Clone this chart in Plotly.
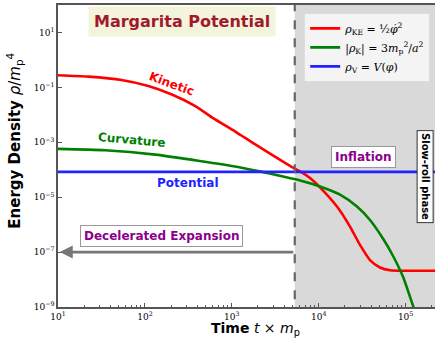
import plotly.graph_objects as go

# ---- data (log10 values) ----
logt_kin = [1.00, 1.35, 1.73, 2.04, 2.31, 2.58, 2.79, 3.04, 3.27, 3.50, 3.73, 3.785, 3.90, 4.015, 4.21, 4.36, 4.475, 4.59, 4.705, 4.82, 5.00, 5.34]
logr_kin = [-0.56, -0.61, -0.73, -0.95, -1.26, -1.68, -2.13, -2.61, -3.08, -3.53, -3.97, -4.06, -4.30, -4.64, -5.34, -6.07, -6.74, -7.29, -7.56, -7.66, -7.68, -7.68]

logt_curv = [1.00, 1.54, 2.12, 2.63, 3.07, 3.32, 3.55, 3.785, 4.015, 4.245, 4.44, 4.59, 4.75, 4.86, 4.97, 5.09, 5.12]
logr_curv = [-3.24, -3.29, -3.45, -3.68, -3.90, -4.06, -4.22, -4.39, -4.61, -4.91, -5.34, -5.83, -6.56, -7.17, -7.90, -9.00, -9.25]

logt_pot = [1.00, 5.34]
logr_pot = [-4.08, -4.08]

t_transition = 5.3e3
x_range_log = [1.0, 5.338]
y_range_log = [-9.0, 2.0]

y_tick_exps = [1, -1, -3, -5, -7, -9]
x_tick_exps = [1, 2, 3, 4, 5]

def p10(a):
    return [10 ** v for v in a]

fig = go.Figure()

# shaded inflation region
fig.add_trace(go.Scatter(
    x=[t_transition, 10 ** 6, 10 ** 6, t_transition, t_transition],
    y=[1e-12, 1e-12, 1e4, 1e4, 1e-12],
    fill="toself", fillcolor="#d9d9d9", line=dict(width=0),
    mode="lines", showlegend=False, hoverinfo="skip"))

# curves
fig.add_trace(go.Scatter(x=p10(logt_kin), y=p10(logr_kin), mode="lines",
                         line=dict(color="#ff0000", width=2.6, shape="spline", smoothing=0.6),
                         name="<i>ρ</i><sub>KE</sub> = ½<i>φ̇</i><sup>2</sup>"))
fig.add_trace(go.Scatter(x=p10(logt_curv), y=p10(logr_curv), mode="lines",
                         line=dict(color="#008000", width=2.6, shape="spline", smoothing=0.6),
                         name="|<i>ρ</i><sub>K</sub>| = 3<i>m</i><sub>p</sub><sup>2</sup>/<i>a</i><sup>2</sup>"))
fig.add_trace(go.Scatter(x=p10(logt_pot), y=p10(logr_pot), mode="lines",
                         line=dict(color="#2222ff", width=2.6),
                         name="<i>ρ</i><sub>V</sub> = <i>V</i>(<i>φ</i>)"))

# dashed transition line
fig.add_trace(go.Scatter(x=[t_transition, t_transition], y=[1e-12, 1e4], mode="lines",
                         line=dict(color="#666666", width=2.2, dash="dash"),
                         showlegend=False, hoverinfo="skip"))

sans = "DejaVu Sans"
ann = []
# title box
ann.append(dict(x=0.328, y=0.944, xref="paper", yref="paper", showarrow=False,
                xanchor="center", yanchor="middle",
                text="<b>Margarita Potential</b>",
                font=dict(family=sans, size=16, color="#a01a2e"),
                bgcolor="#f4f4dc", borderpad=5))
ann.append(dict(x=2.31, y=-0.89, xref="x", yref="y", showarrow=False, textangle=20,
                xanchor="center", yanchor="middle",
                text="<b>Kinetic</b>", font=dict(family=sans, size=12, color="#ff0000")))
ann.append(dict(x=1.85, y=-2.90, xref="x", yref="y", showarrow=False, textangle=5,
                xanchor="center", yanchor="middle",
                text="<b>Curvature</b>", font=dict(family=sans, size=12, color="#008000")))
ann.append(dict(x=2.50, y=-4.49, xref="x", yref="y", showarrow=False,
                xanchor="center", yanchor="middle",
                text="<b>Potential</b>", font=dict(family=sans, size=12, color="#2222ff")))
ann.append(dict(x=4.52, y=-3.54, xref="x", yref="y", showarrow=False,
                xanchor="center", yanchor="middle",
                text="<b>Inflation</b>", font=dict(family=sans, size=12, color="#8b008b"),
                bgcolor="white", bordercolor="#999999", borderwidth=1, borderpad=3))
ann.append(dict(x=2.19, y=-6.41, xref="x", yref="y", showarrow=False,
                xanchor="center", yanchor="middle",
                text="<b>Decelerated Expansion</b>", font=dict(family=sans, size=12, color="#8b008b"),
                bgcolor="white", bordercolor="#999999", borderwidth=1, borderpad=3))
ann.append(dict(x=5.22, y=-4.26, xref="x", yref="y", showarrow=False, textangle=90,
                xanchor="center", yanchor="middle",
                text="<b>Slow-roll phase</b>", font=dict(family=sans, size=10, color="black"),
                bgcolor="white", bordercolor="#333333", borderwidth=1, borderpad=2))
# arrow
ann.append(dict(x=1.02, y=-7, xref="x", yref="y", ax=3.725, ay=-7, axref="x", ayref="y",
                text="", showarrow=True, arrowhead=2, arrowsize=1, arrowwidth=2.6,
                arrowcolor="#777777", standoff=0, startstandoff=0))
# axis titles
ann.append(dict(x=0.525, y=-0.073, xref="paper", yref="paper", showarrow=False,
                xanchor="center", yanchor="middle",
                text="<b>Time</b> <i>t</i> × <i>m</i><sub>p</sub>",
                font=dict(family=sans, size=14, color="black")))
ann.append(dict(x=-0.1147, y=0.55, xref="paper", yref="paper", showarrow=False, textangle=-90,
                xanchor="center", yanchor="middle",
                text="<b>Energy Density</b> <i>ρ</i>/<i>m</i><sub>p</sub><sup>4</sup>",
                font=dict(family=sans, size=15, color="black")))

fig.update_layout(
    width=435, height=338,
    margin=dict(l=58, r=0, t=5, b=31),
    paper_bgcolor="white", plot_bgcolor="white",
    annotations=ann,
    showlegend=True,
    legend=dict(x=0.653, y=0.974, xanchor="left", yanchor="top",
                bgcolor="rgba(246,246,246,0.95)", bordercolor="#dddddd", borderwidth=1,
                font=dict(family="DejaVu Serif", size=11, color="black"),
                tracegroupgap=4, itemwidth=30),
)

minor_x = [m * 10 ** e for e in range(1, 6) for m in range(2, 10)]
fig.update_xaxes(type="log", range=x_range_log, automargin=False,
                 tickvals=[10 ** e for e in x_tick_exps],
                 ticktext=[f"10<sup>{e}</sup>" for e in x_tick_exps],
                 ticks="inside", ticklen=4, tickcolor="#555", showgrid=False, zeroline=False,
                 showline=True, linecolor="#555555", linewidth=1.5, mirror=True,
                 minor=dict(tickvals=minor_x, ticks="inside", ticklen=2, tickcolor="#555", showgrid=False),
                 tickfont=dict(family="DejaVu Serif", size=9, color="black"))
fig.update_yaxes(type="log", range=y_range_log, automargin=False,
                 tickvals=[10 ** e for e in y_tick_exps],
                 ticktext=[f"10<sup>{'−' if e < 0 else ''}{abs(e)}</sup>" for e in y_tick_exps],
                 ticks="inside", ticklen=4, tickcolor="#555", showgrid=False, zeroline=False,
                 showline=True, linecolor="#555555", linewidth=1.5, mirror=True,
                 tickfont=dict(family="DejaVu Serif", size=9, color="black"))

fig.write_html("out.html", config={"displayModeBar": False},
               post_script="document.body.style.margin='0px';")
